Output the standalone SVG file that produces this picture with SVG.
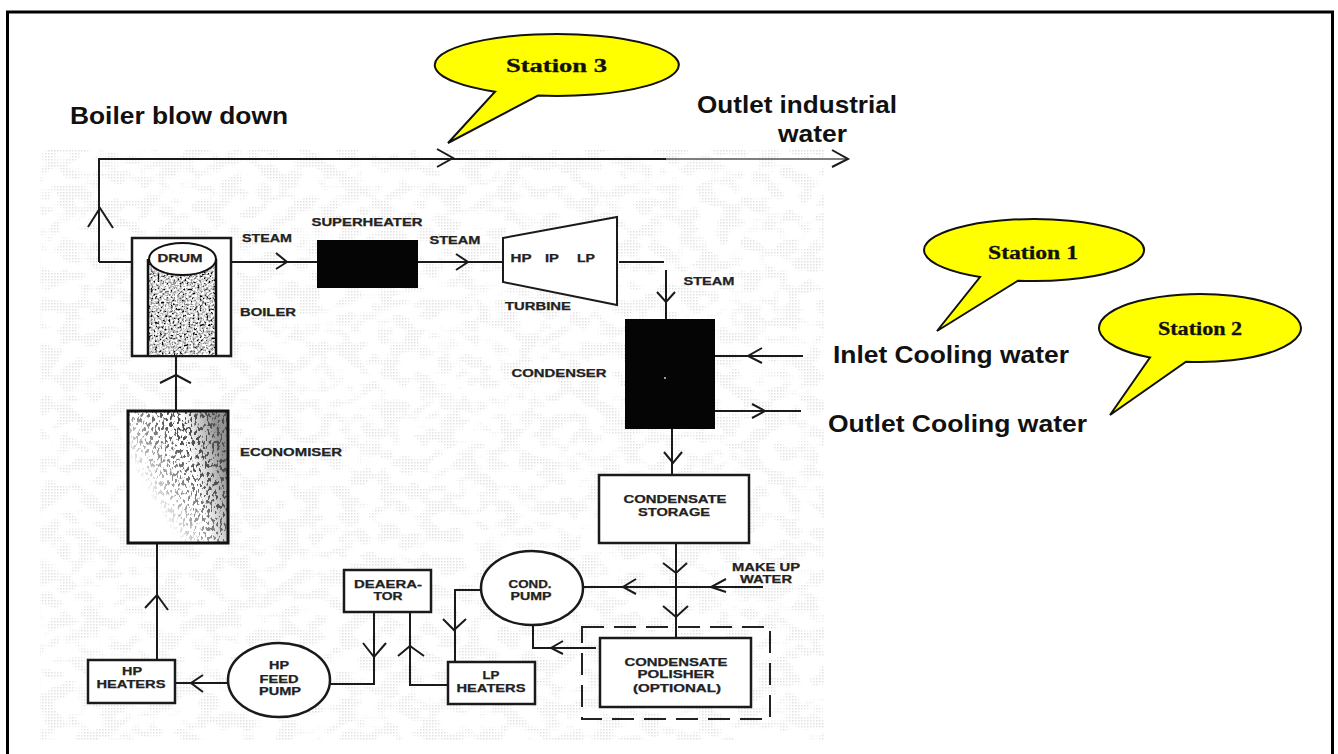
<svg xmlns="http://www.w3.org/2000/svg" width="1338" height="754" viewBox="0 0 1338 754">
<style>
.ln{fill:none;stroke:#1a1a1a;stroke-width:2}
.bx{fill:#fff;stroke:#1a1a1a;stroke-width:2.5}
.lb{font-family:"Liberation Sans",Arial,sans-serif;font-weight:bold;font-size:11px;fill:#222;stroke:#222;stroke-width:.25;text-anchor:middle}
.big{font-family:"Liberation Sans",Arial,sans-serif;font-weight:bold;font-size:24px;fill:#111}
.st{font-family:"Liberation Serif","Times New Roman",serif;font-weight:bold;font-size:18px;fill:#111;stroke:#111;stroke-width:.3}
.call{fill:#ffff00;stroke:#111;stroke-width:2}
</style>
<defs>
<pattern id="ht" width="3" height="3" patternUnits="userSpaceOnUse"><rect width="1.5" height="1.5" fill="#e0e0e0"/></pattern>
<filter id="patchy" x="0" y="0" width="1" height="1"><feTurbulence type="fractalNoise" baseFrequency="0.05 0.07" numOctaves="2" seed="7"/><feColorMatrix values="0 0 0 0 0 0 0 0 0 0 0 0 0 0 0 8 0 0 0 -3.7"/><feComposite in="SourceGraphic" operator="in"/></filter>
<filter id="grain" x="0" y="0" width="1" height="1"><feTurbulence type="fractalNoise" baseFrequency="0.45" numOctaves="2" seed="4"/><feColorMatrix values="3 0 0 0 -.85 3 0 0 0 -.85 3 0 0 0 -.85 0 0 0 0 1"/></filter>
<filter id="blot" x="0" y="0" width="1" height="1"><feTurbulence type="fractalNoise" baseFrequency="0.4 0.22" numOctaves="2" seed="11"/><feColorMatrix values="0 0 0 0 .08 0 0 0 0 .08 0 0 0 0 .08 12 0 0 0 -6.4"/></filter>
<linearGradient id="ecoG" x1="0" y1="1" x2="1" y2=".2"><stop offset=".3" stop-color="#000"/><stop offset=".5" stop-color="#999"/><stop offset=".7" stop-color="#fff"/></linearGradient>
<linearGradient id="ecoS" x1="0" y1=".8" x2="1" y2=".5"><stop offset=".7" stop-color="#777" stop-opacity="0"/><stop offset="1" stop-color="#666" stop-opacity=".7"/></linearGradient>
<mask id="ecoM" maskUnits="userSpaceOnUse" x="129" y="411" width="100" height="132"><rect x="129" y="411" width="100" height="132" fill="url(#ecoG)"/></mask>
</defs>
<rect width="1338" height="754" fill="#fff"/>
<rect x="40" y="150" width="785" height="590" fill="url(#ht)" filter="url(#patchy)"/>
<rect x="7.5" y="12" width="1325" height="760" fill="none" stroke="#000" stroke-width="3"/>
<g id="connectors">
<path class="ln" d="M99 262V159H666M132 262H99M231 262H318M418 262H502M619 262H664M666 270V319M715 356H803M715 411H801M672 429V475M676 543V638M583 587H763M596 648H533V625M481 590H455V662M448 685H410V612M374 612V684H330M228 683H175M157 660V544M176 355V411"/>
<path d="M666 159H848" fill="none" stroke="#555" stroke-width="1.5"/>
<path class="ln" d="M437 149L453 158L437 167M832 150L848 159L832 167M88 227L100 208L113 228M276 253L287 262L276 269M456 254L468 262L456 270M657 292L666 302L675 292M762 348L748 356L762 363M752 404L765 411L752 418M664 452L673 463L682 452M663 563L676 573L687 563M663 606L676 617L688 606M636 579L623 587L636 594M726 579L711 587L726 592M563 641L551 648L563 654M443 619L454 630L466 619M398 656L410 646L424 656M363 643L374 657L386 643M203 675L191 683L203 692M145 608L157 595L168 610M160 383L176 375L191 383"/>
</g>
<g id="boiler">
<rect class="bx" x="132" y="238" width="99" height="118"/>
<rect x="149" y="259" width="66" height="96" filter="url(#grain)"/>
<path d="M148 259V356M216 259V356" fill="none" stroke="#111" stroke-width="2.5"/>
<ellipse cx="182.500" cy="259" rx="33.500" ry="16" fill="#fff" stroke="#111" stroke-width="2"/>
<text class="lb" x="180" y="262" textLength="45" lengthAdjust="spacingAndGlyphs">DRUM</text>
<text class="lb" x="268" y="316" textLength="56" lengthAdjust="spacingAndGlyphs">BOILER</text>
</g>
<g id="superheater"><rect x="317" y="240" width="101" height="48" fill="#050505"/><text class="lb" x="367" y="226" textLength="111" lengthAdjust="spacingAndGlyphs">SUPERHEATER</text><text class="lb" x="267" y="242" textLength="50" lengthAdjust="spacingAndGlyphs">STEAM</text><text class="lb" x="455" y="244" textLength="51" lengthAdjust="spacingAndGlyphs">STEAM</text></g>
<g id="turbine"><path d="M503 238L617 217V305L503 282Z" fill="#fff" stroke="#1a1a1a" stroke-width="2"/><text class="lb" x="521" y="262" textLength="21" lengthAdjust="spacingAndGlyphs">HP</text><text class="lb" x="552" y="262" textLength="14" lengthAdjust="spacingAndGlyphs">IP</text><text class="lb" x="586" y="262" textLength="18" lengthAdjust="spacingAndGlyphs">LP</text><text class="lb" x="538" y="310" textLength="66" lengthAdjust="spacingAndGlyphs">TURBINE</text><text class="lb" x="709" y="285" textLength="51" lengthAdjust="spacingAndGlyphs">STEAM</text></g>
<g id="condenser"><rect x="625" y="319" width="90" height="110" fill="#050505"/><circle cx="665" cy="378" r="1" fill="#ccc"/><text class="lb" x="559" y="377" textLength="95" lengthAdjust="spacingAndGlyphs">CONDENSER</text></g>
<g id="storage"><rect class="bx" x="599" y="475" width="150" height="68"/><text class="lb" x="675" y="503" textLength="103" lengthAdjust="spacingAndGlyphs">CONDENSATE</text><text class="lb" x="674" y="516" textLength="72" lengthAdjust="spacingAndGlyphs">STORAGE</text></g>
<g id="polisher"><rect x="582" y="627" width="188" height="92" fill="none" stroke="#222" stroke-width="2" stroke-dasharray="22 10"/><rect class="bx" x="600" y="638" width="151" height="69"/><text class="lb" x="676" y="666" textLength="103" lengthAdjust="spacingAndGlyphs">CONDENSATE</text><text class="lb" x="676" y="678" textLength="77" lengthAdjust="spacingAndGlyphs">POLISHER</text><text class="lb" x="677" y="692" textLength="88" lengthAdjust="spacingAndGlyphs">(OPTIONAL)</text></g>
<g id="cond-pump"><ellipse cx="532" cy="588" rx="51" ry="37" class="bx"/><text class="lb" x="530" y="588" textLength="43" lengthAdjust="spacingAndGlyphs">COND.</text><text class="lb" x="531" y="600" textLength="41" lengthAdjust="spacingAndGlyphs">PUMP</text></g>
<g id="lp-heaters"><rect class="bx" x="448" y="662" width="87" height="42"/><text class="lb" x="491" y="679" textLength="17" lengthAdjust="spacingAndGlyphs">LP</text><text class="lb" x="491" y="692" textLength="69" lengthAdjust="spacingAndGlyphs">HEATERS</text></g>
<g id="deaerator"><rect class="bx" x="344" y="570" width="87" height="42"/><text class="lb" x="388" y="588" textLength="68" lengthAdjust="spacingAndGlyphs">DEAERA-</text><text class="lb" x="388" y="600" textLength="29" lengthAdjust="spacingAndGlyphs">TOR</text></g>
<g id="hp-pump"><ellipse cx="279" cy="680" rx="51" ry="37" class="bx"/><text class="lb" x="279" y="669" textLength="20" lengthAdjust="spacingAndGlyphs">HP</text><text class="lb" x="279" y="683" textLength="39" lengthAdjust="spacingAndGlyphs">FEED</text><text class="lb" x="280" y="695" textLength="42" lengthAdjust="spacingAndGlyphs">PUMP</text></g>
<g id="hp-heaters"><rect class="bx" x="88" y="660" width="87" height="43"/><text class="lb" x="132" y="675" textLength="20" lengthAdjust="spacingAndGlyphs">HP</text><text class="lb" x="131" y="688" textLength="69" lengthAdjust="spacingAndGlyphs">HEATERS</text></g>
<g id="economiser"><rect x="128" y="411" width="100" height="132" fill="#fff"/><rect x="129" y="412" width="98" height="130" fill="url(#ecoS)"/><rect x="129" y="412" width="98" height="130" filter="url(#blot)" mask="url(#ecoM)"/><rect x="128" y="411" width="100" height="132" fill="none" stroke="#111" stroke-width="3"/><text class="lb" x="291" y="456" textLength="102" lengthAdjust="spacingAndGlyphs">ECONOMISER</text></g>
<g id="makeup"><text class="lb" x="766" y="571" textLength="68" lengthAdjust="spacingAndGlyphs">MAKE UP</text><text class="lb" x="766" y="583" textLength="52" lengthAdjust="spacingAndGlyphs">WATER</text></g>
<g id="labels">
<text class="big" x="70" y="124" textLength="218" lengthAdjust="spacingAndGlyphs">Boiler blow down</text>
<text class="big" x="697" y="113" textLength="200" lengthAdjust="spacingAndGlyphs">Outlet industrial</text>
<text class="big" x="778" y="142" textLength="69" lengthAdjust="spacingAndGlyphs">water</text>
<text class="big" x="833" y="363" textLength="236" lengthAdjust="spacingAndGlyphs">Inlet Cooling water</text>
<text class="big" x="828" y="432" textLength="259" lengthAdjust="spacingAndGlyphs">Outlet Cooling water</text>
</g>
<g id="station-3"><path class="call" d="M448 143L495 91.700A122 31 0 1 1 538 95.600Z"/><text class="st" x="506" y="72" textLength="101" lengthAdjust="spacingAndGlyphs">Station 3</text></g>
<g id="station-1"><path class="call" d="M937 331L980 277A110 31 0 1 1 1018 280.670Z"/><text class="st" x="988" y="259" textLength="90" lengthAdjust="spacingAndGlyphs">Station 1</text></g>
<g id="station-2"><path class="call" d="M1110 415L1150 357.540A101 34 0 1 1 1186 361.670Z"/><text class="st" x="1158" y="335" textLength="84" lengthAdjust="spacingAndGlyphs">Station 2</text></g>
</svg>
